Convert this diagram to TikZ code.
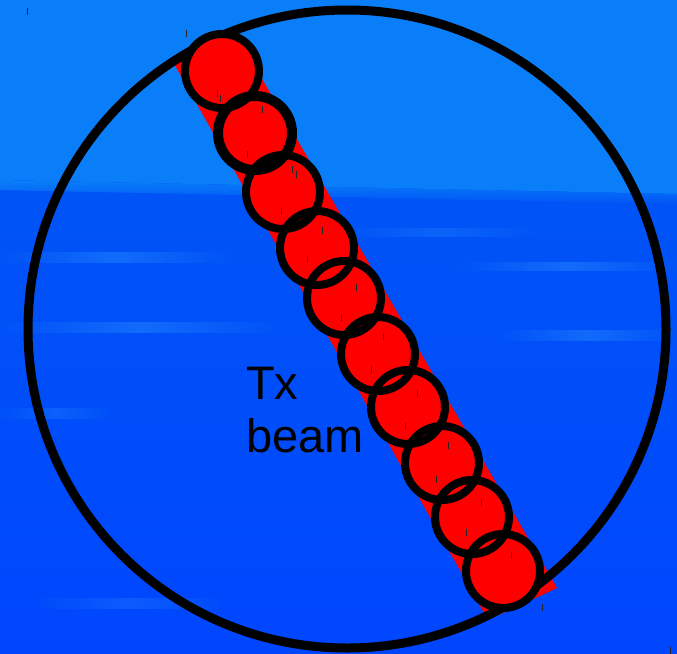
\documentclass[tikz,border=0pt]{standalone}
\usepackage{fontspec}
\usepackage{tikz}
\usetikzlibrary{positioning}
\newfontfamily\labelfont{Liberation Sans}
\definecolor{skytop}{RGB}{10,126,248}
\definecolor{skymid}{RGB}{0,84,246}
\definecolor{skylow}{RGB}{0,70,255}
\definecolor{haze}{RGB}{40,140,255}
\definecolor{beamred}{RGB}{255,0,0}

\begin{document}
\begin{tikzpicture}[
  x=1pt,y=-1pt,
  outline/.style={draw=black,line width=9pt},
  ring/.style={draw=black,line width=8pt},
  spot/.style={fill=beamred},
  tick/.style={line width=1pt,black!85},
  streak/.style={left color=skymid,right color=skymid,middle color=haze,
                 opacity=0.45},
  every node/.style={font=\labelfont}
]
\useasboundingbox (0,0) rectangle (677,653);

% Sky background
\fill[skylow] (0,0) rectangle (677,653);
\shade[top color=skymid,bottom color=skylow] (0,185) rectangle (677,653);
\fill[skytop] (0,0) -- (677,0) -- (677,194) -- (0,180) -- cycle;
\shade[top color=skytop,bottom color=skymid] (0,180) -- (677,194)
  -- (677,204) -- (0,190) -- cycle;
\shade[streak] (0,252) rectangle (230,262);
\shade[streak] (460,262) rectangle (677,270);
\shade[streak] (0,322) rectangle (280,332);
\shade[streak] (500,330) rectangle (677,340);
\shade[streak,opacity=0.3] (340,228) rectangle (540,236);
\shade[streak,opacity=0.3] (0,408) rectangle (110,418);
\shade[streak,opacity=0.3] (40,598) rectangle (220,608);

% Tx beam strip
\fill[beamred] (172,60) -- (236,34) -- (557,588) -- (488,620) -- cycle;

% Outer circle
\draw[outline] (347,329) circle[radius=319];

% Beam spots
\foreach \cx/\cy in {222/71,255/133,283/192,317/248,344/298,
                     378/354,408/407,442/463,472/517,503/571}
  \fill[spot] (\cx,\cy) circle[radius=37];
\foreach \cx/\cy/\w in {222/71/8,255/133/10,283/192/8,317/248/8,344/298/8,
                        378/354/8,408/407/8,442/463/8,472/517/8,503/571/8}
  \draw[ring,line width=\w pt] (\cx,\cy) circle[radius=37];

% Small marks
\foreach \tx/\ty in {27/11,186/33,217/93,220/98,262/109,247/154,292/169,
                     296/174,281/211,322/230,307/259,356/287,341/317,
                     383/336,371/369,417/393,405/426,448/445,436/479,
                     481/502,466/532,511/555,542/607,670/650}
  \draw[tick] (\tx,\ty-3.5) -- (\tx,\ty+3.5);

% Label
\node[anchor=north west,align=left,inner sep=0pt,
      font=\labelfont\fontsize{47}{53}\selectfont] (txbeam) at (246,367)
  {Tx\\beam};
\end{tikzpicture}
\end{document}
